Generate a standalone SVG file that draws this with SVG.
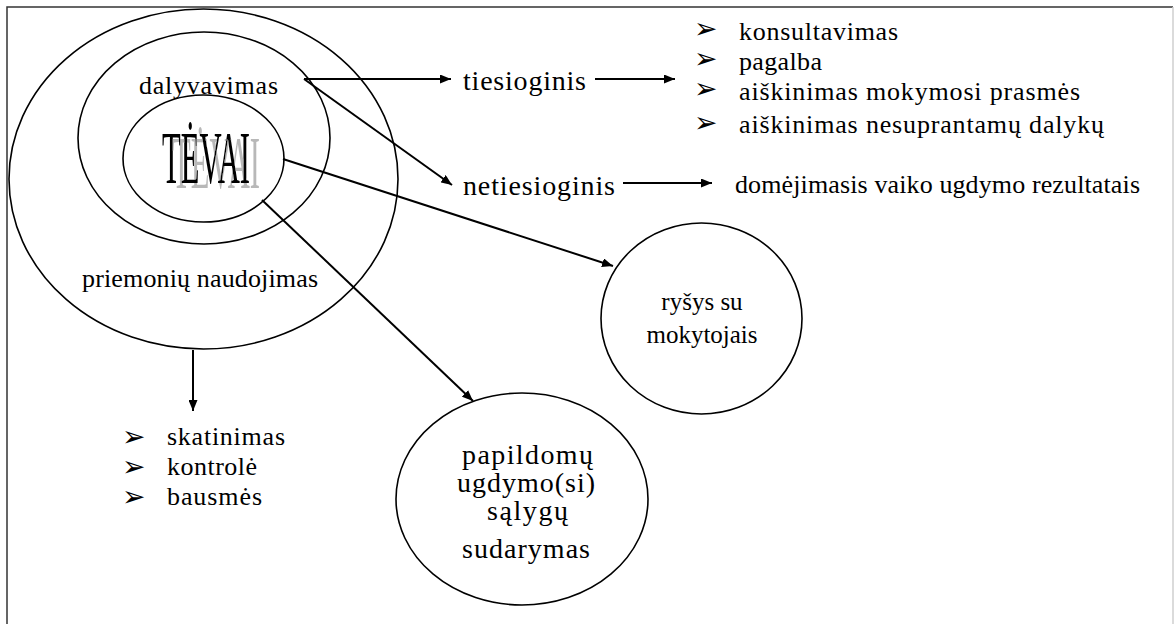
<svg xmlns="http://www.w3.org/2000/svg" width="1174" height="624" viewBox="0 0 1174 624" font-family="'Liberation Serif', 'DejaVu Serif', serif">
<style>
  .shape{fill:none;stroke:#000;stroke-width:1.6}
  .conn{fill:none;stroke:#000;stroke-width:2}
  .tx{font-family:'Liberation Serif','DejaVu Serif',serif;fill:#000}
  .t26{font-size:26px}
  .t30{font-size:28px}
  .bul{font-family:'DejaVu Sans',sans-serif;font-size:28px;fill:#000}
</style>
<defs>
  <marker id="ah" markerUnits="userSpaceOnUse" markerWidth="11" markerHeight="9" refX="11" refY="4.5" orient="auto">
    <path d="M0,0 L11,4.5 L0,9 z" fill="#000"/>
  </marker>
  <filter id="shadow" x="-10%" y="-10%" width="130%" height="130%">
    <feFlood flood-color="#b8b8b8" result="c"/>
    <feComposite in="c" in2="SourceAlpha" operator="in" result="s"/>
    <feOffset in="s" dx="10" dy="5" result="o"/>
    <feMerge><feMergeNode in="o"/><feMergeNode in="SourceGraphic"/></feMerge>
  </filter>
</defs>
<rect width="1174" height="624" fill="#fff"/>
<path d="M7,624 V7 H1173" fill="none" stroke="#333" stroke-width="1.5"/>
<path d="M1173,7 V624" fill="none" stroke="#cfcfcf" stroke-width="1.5"/>

<g id="outer">
  <ellipse class="shape" cx="203.5" cy="179" rx="194.5" ry="170"/>
  <text class="tx t26" x="82" y="287" textLength="236" lengthAdjust="spacing">priemonių naudojimas</text>
</g>
<g id="middle">
  <ellipse class="shape" cx="204" cy="138" rx="126" ry="106"/>
  <text class="tx t26" x="139" y="94" textLength="139" lengthAdjust="spacing">dalyvavimas</text>
</g>
<g id="tevai">
  <ellipse class="shape" cx="203.5" cy="158.5" rx="80.5" ry="63.5"/>
  <text class="tx" x="162" y="183" font-size="73" textLength="88" lengthAdjust="spacingAndGlyphs" filter="url(#shadow)">TĖVAI</text>
</g>
<g id="tiesioginis">
  <text class="tx t30" x="463" y="90" textLength="123" lengthAdjust="spacing">tiesioginis</text>
</g>
<g id="netiesioginis">
  <text class="tx t30" x="463" y="195" textLength="152" lengthAdjust="spacing">netiesioginis</text>
</g>
<g id="tiesioginis-list">
  <text class="bul" x="694" y="38">➢</text>
  <text class="bul" x="694" y="68">➢</text>
  <text class="bul" x="694" y="98">➢</text>
  <text class="bul" x="694" y="132">➢</text>
  <text class="tx t26" x="739" y="40" textLength="159" lengthAdjust="spacing">konsultavimas</text>
  <text class="tx t26" x="739" y="70" textLength="83" lengthAdjust="spacing">pagalba</text>
  <text class="tx t26" x="739" y="100" textLength="341" lengthAdjust="spacing">aiškinimas mokymosi prasmės</text>
  <text class="tx t26" x="739" y="133" textLength="365" lengthAdjust="spacing">aiškinimas nesuprantamų dalykų</text>
</g>
<g id="netiesioginis-item">
  <text class="tx t26" x="735" y="193" textLength="405" lengthAdjust="spacing">domėjimasis vaiko ugdymo rezultatais</text>
</g>
<g id="rysys">
  <ellipse class="shape" cx="701.5" cy="318.5" rx="100.5" ry="95.5"/>
  <text class="tx" x="702" y="310" font-size="25" text-anchor="middle">ryšys su</text>
  <text class="tx" x="702" y="343" font-size="25" text-anchor="middle">mokytojais</text>
</g>
<g id="papildomu">
  <ellipse class="shape" cx="522" cy="499" rx="126" ry="106"/>
  <text class="tx t30" x="462" y="464" textLength="131" lengthAdjust="spacing">papildomų</text>
  <text class="tx t30" x="457" y="492" textLength="138" lengthAdjust="spacing">ugdymo(si)</text>
  <text class="tx t30" x="487" y="520" textLength="81" lengthAdjust="spacing">sąlygų</text>
  <text class="tx t30" x="462" y="558" textLength="128" lengthAdjust="spacing">sudarymas</text>
</g>
<g id="priemones-list">
  <text class="bul" x="122" y="446">➢</text>
  <text class="bul" x="122" y="476">➢</text>
  <text class="bul" x="122" y="506">➢</text>
  <text class="tx t26" x="167" y="445" textLength="118" lengthAdjust="spacing">skatinimas</text>
  <text class="tx t26" x="167" y="475" textLength="90" lengthAdjust="spacing">kontrolė</text>
  <text class="tx t26" x="167" y="505" textLength="95" lengthAdjust="spacing">bausmės</text>
</g>

<g id="connectors">
  <path class="conn" d="M304,79 H451" marker-end="url(#ah)"/>
  <path class="conn" d="M304,79 L452,185" marker-end="url(#ah)"/>
  <path class="conn" d="M595,79 H675" marker-end="url(#ah)"/>
  <path class="conn" d="M623,183 H712" marker-end="url(#ah)"/>
  <path class="conn" d="M283,159 L613,266" marker-end="url(#ah)"/>
  <path class="conn" d="M262,200 L473,401" marker-end="url(#ah)"/>
  <path class="conn" d="M193,350 V411" marker-end="url(#ah)"/>
</g>
</svg>
